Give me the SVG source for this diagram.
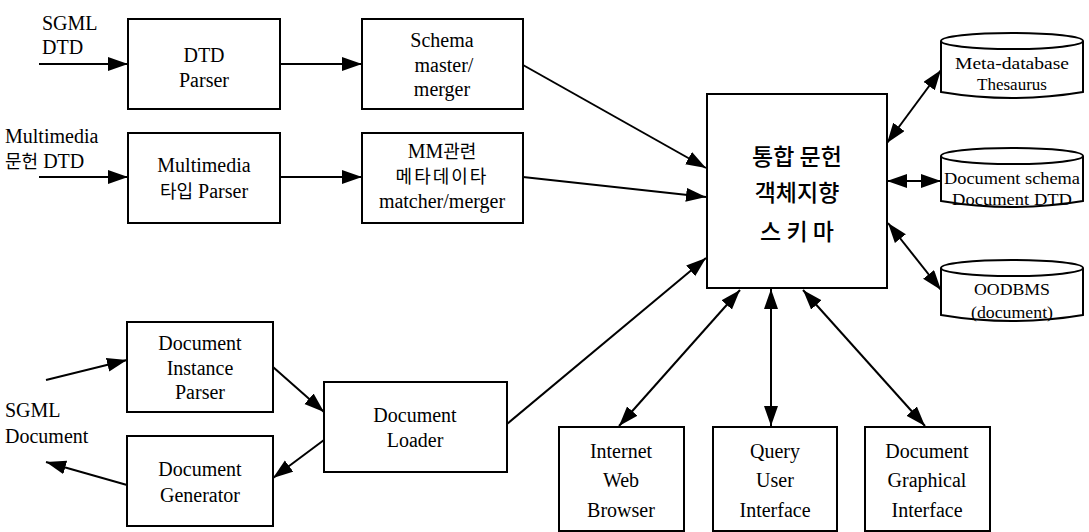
<svg xmlns="http://www.w3.org/2000/svg" width="1089" height="532" viewBox="0 0 1089 532">
<defs>
<style>
.box{fill:#fff;stroke:#000;stroke-width:2}
text{font-family:'Liberation Serif',serif}
.t{font-size:20px;fill:#000;text-anchor:middle}
.l{font-size:20px;fill:#000}
.h{font-family:'Noto Sans CJK KR',sans-serif;font-size:18px;font-weight:400}
.k{font-family:'Noto Sans CJK KR',sans-serif;font-size:23px;font-weight:500;fill:#000;text-anchor:middle}
.c{font-size:17px;fill:#000;text-anchor:middle}
.e{fill:none;stroke:#000;stroke-width:2;marker-end:url(#ah)}
.b{fill:none;stroke:#000;stroke-width:2;marker-start:url(#ah);marker-end:url(#ah)}
</style>
<marker id="ah" markerUnits="userSpaceOnUse" markerWidth="21" markerHeight="15" refX="20" refY="7" orient="auto-start-reverse">
<path d="M0,0 L20,7 L0,14 z" fill="#000"/>
</marker>
</defs>
<rect width="1089" height="532" fill="#fff"/>

<g id="connectors">
<line class="e" x1="39" y1="64" x2="128" y2="64"/>
<line class="e" x1="280" y1="64" x2="362" y2="64"/>
<line class="e" x1="39" y1="177" x2="128" y2="177"/>
<line class="e" x1="280" y1="177" x2="362" y2="177"/>
<line class="e" x1="523" y1="65" x2="706" y2="168"/>
<line class="e" x1="523" y1="177" x2="706" y2="197"/>
<line class="e" x1="46" y1="380" x2="127" y2="360"/>
<line class="e" x1="127" y1="485" x2="46" y2="462"/>
<line class="e" x1="273" y1="367" x2="324" y2="412"/>
<line class="e" x1="324" y1="440" x2="273" y2="478"/>
<line class="e" x1="507" y1="424" x2="706" y2="258"/>
<line class="b" x1="887" y1="143" x2="941" y2="70"/>
<line class="b" x1="887" y1="181" x2="941" y2="181"/>
<line class="b" x1="888" y1="223" x2="941" y2="290"/>
<line class="b" x1="619" y1="426" x2="740" y2="290"/>
<line class="b" x1="771" y1="426" x2="771" y2="289"/>
<line class="b" x1="925" y1="426" x2="803" y2="290"/>
</g>

<g id="labels">
<text class="l" x="42" y="30">SGML</text>
<text class="l" x="42" y="54">DTD</text>
<text class="l" x="5" y="143">Multimedia</text>
<text class="l" x="5" y="168"><tspan class="h">문헌</tspan> DTD</text>
<text class="l" x="5" y="417">SGML</text>
<text class="l" x="5" y="443">Document</text>
</g>

<g id="dtd-parser">
<rect class="box" x="128" y="19" width="152" height="90"/>
<text class="t" x="204" y="62">DTD</text>
<text class="t" x="204" y="87">Parser</text>
</g>
<g id="mm-parser">
<rect class="box" x="128" y="133" width="152" height="90"/>
<text class="t" x="204" y="172">Multimedia</text>
<text class="t" x="204" y="198"><tspan class="h">타입</tspan>  Parser</text>
</g>
<g id="schema-merger">
<rect class="box" x="362" y="19" width="161" height="90"/>
<text class="t" x="442" y="47">Schema</text>
<text class="t" x="444" y="72">master/</text>
<text class="t" x="442" y="96">merger</text>
</g>
<g id="mm-merger">
<rect class="box" x="362" y="133" width="161" height="90"/>
<text class="t" x="442" y="158">MM<tspan class="h">관련</tspan></text>
<text class="t" x="442" y="183"><tspan class="h" letter-spacing="2">메타데이타</tspan></text>
<text class="t" x="442" y="208">matcher/merger</text>
</g>
<g id="schema">
<rect class="box" x="707" y="94" width="180" height="194"/>
<text class="k" x="797" y="165">통합 문헌</text>
<text class="k" x="797" y="201">객체지향</text>
<text class="k" x="797" y="240">스 키 마</text>
</g>
<g id="meta-db">
<path class="box" d="M941,41 A71,8 0 0 1 1083,41 L1083,92 Q1012,104 941,92 Z"/>
<path d="M941,41 A71,8 0 0 0 1083,41" fill="none" stroke="#000" stroke-width="2"/>
<text class="c" x="1012" y="69" textLength="114" lengthAdjust="spacingAndGlyphs">Meta-database</text>
<text class="c" x="1012" y="90" textLength="70" lengthAdjust="spacingAndGlyphs">Thesaurus</text>
</g>
<g id="doc-schema">
<path class="box" d="M941,156 A71,8 0 0 1 1083,156 L1083,201 Q1012,213 941,201 Z"/>
<path d="M941,156 A71,8 0 0 0 1083,156" fill="none" stroke="#000" stroke-width="2"/>
<text class="c" x="1012" y="184" textLength="136" lengthAdjust="spacingAndGlyphs">Document schema</text>
<text class="c" x="1012" y="205" textLength="120" lengthAdjust="spacingAndGlyphs">Document DTD</text>
</g>
<g id="oodbms">
<path class="box" d="M941,268 A71,8 0 0 1 1083,268 L1083,315 Q1012,327 941,315 Z"/>
<path d="M941,268 A71,8 0 0 0 1083,268" fill="none" stroke="#000" stroke-width="2"/>
<text class="c" x="1012" y="295" textLength="76" lengthAdjust="spacingAndGlyphs">OODBMS</text>
<text class="c" x="1012" y="318" textLength="82" lengthAdjust="spacingAndGlyphs">(document)</text>
</g>
<g id="instance-parser">
<rect class="box" x="127" y="322" width="146" height="90"/>
<text class="t" x="200" y="350">Document</text>
<text class="t" x="200" y="375">Instance</text>
<text class="t" x="200" y="399">Parser</text>
</g>
<g id="generator">
<rect class="box" x="127" y="436" width="146" height="90"/>
<text class="t" x="200" y="476">Document</text>
<text class="t" x="200" y="502">Generator</text>
</g>
<g id="loader">
<rect class="box" x="324" y="382" width="183" height="90"/>
<text class="t" x="415" y="422">Document</text>
<text class="t" x="415" y="447">Loader</text>
</g>
<g id="browser">
<rect class="box" x="559" y="427" width="125" height="104"/>
<text class="t" x="621" y="458">Internet</text>
<text class="t" x="621" y="487">Web</text>
<text class="t" x="621" y="517">Browser</text>
</g>
<g id="query-ui">
<rect class="box" x="713" y="427" width="124" height="104"/>
<text class="t" x="775" y="458">Query</text>
<text class="t" x="775" y="487">User</text>
<text class="t" x="775" y="517">Interface</text>
</g>
<g id="graphical-ui">
<rect class="box" x="865" y="427" width="125" height="104"/>
<text class="t" x="927" y="458">Document</text>
<text class="t" x="927" y="487">Graphical</text>
<text class="t" x="927" y="517">Interface</text>
</g>
</svg>
